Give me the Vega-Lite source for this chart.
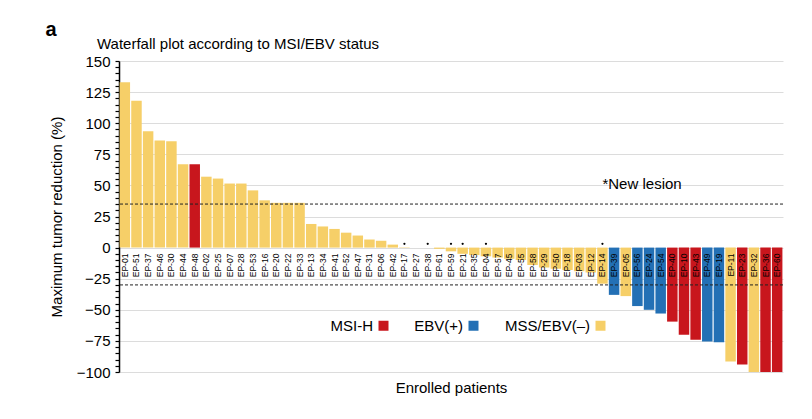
{
  "$schema": "https://vega.github.io/schema/vega-lite/v6.json",
  "autosize": {"type": "none"},
  "padding": {"left": 119, "top": 61, "right": 29, "bottom": 47},
  "width": 664,
  "height": 311,
  "config": {
    "font": "Liberation Sans",
    "view": {"stroke": null}
  },
  "title": {"text": "Waterfall plot according to MSI/EBV status", "anchor": "start", "frame": "group", "fontSize": 15, "fontWeight": "normal", "color": "#000", "dx": -22, "offset": 4, "dy": 37},
  "datasets": {
    "patients": [
      {"patient": "EP-01", "value": 133, "status": "MSS/EBV(–)", "lesion": false},
      {"patient": "EP-51", "value": 118, "status": "MSS/EBV(–)", "lesion": false},
      {"patient": "EP-37", "value": 93.5, "status": "MSS/EBV(–)", "lesion": false},
      {"patient": "EP-46", "value": 86, "status": "MSS/EBV(–)", "lesion": false},
      {"patient": "EP-30", "value": 85.5, "status": "MSS/EBV(–)", "lesion": false},
      {"patient": "EP-44", "value": 67, "status": "MSS/EBV(–)", "lesion": false},
      {"patient": "EP-48", "value": 67, "status": "MSI-H", "lesion": false},
      {"patient": "EP-02", "value": 57, "status": "MSS/EBV(–)", "lesion": false},
      {"patient": "EP-25", "value": 55.5, "status": "MSS/EBV(–)", "lesion": false},
      {"patient": "EP-07", "value": 51.5, "status": "MSS/EBV(–)", "lesion": false},
      {"patient": "EP-28", "value": 51.5, "status": "MSS/EBV(–)", "lesion": false},
      {"patient": "EP-53", "value": 46, "status": "MSS/EBV(–)", "lesion": false},
      {"patient": "EP-16", "value": 38, "status": "MSS/EBV(–)", "lesion": false},
      {"patient": "EP-20", "value": 36, "status": "MSS/EBV(–)", "lesion": false},
      {"patient": "EP-22", "value": 36, "status": "MSS/EBV(–)", "lesion": false},
      {"patient": "EP-33", "value": 36, "status": "MSS/EBV(–)", "lesion": false},
      {"patient": "EP-13", "value": 19, "status": "MSS/EBV(–)", "lesion": false},
      {"patient": "EP-34", "value": 17, "status": "MSS/EBV(–)", "lesion": false},
      {"patient": "EP-41", "value": 15, "status": "MSS/EBV(–)", "lesion": false},
      {"patient": "EP-52", "value": 12, "status": "MSS/EBV(–)", "lesion": false},
      {"patient": "EP-47", "value": 9.7, "status": "MSS/EBV(–)", "lesion": false},
      {"patient": "EP-31", "value": 6.5, "status": "MSS/EBV(–)", "lesion": false},
      {"patient": "EP-06", "value": 5.5, "status": "MSS/EBV(–)", "lesion": false},
      {"patient": "EP-42", "value": 2.4, "status": "MSS/EBV(–)", "lesion": false},
      {"patient": "EP-17", "value": 0.3, "status": "MSS/EBV(–)", "lesion": true},
      {"patient": "EP-27", "value": 0, "status": "MSS/EBV(–)", "lesion": false},
      {"patient": "EP-38", "value": 0, "status": "MSS/EBV(–)", "lesion": true},
      {"patient": "EP-61", "value": -1, "status": "MSS/EBV(–)", "lesion": false},
      {"patient": "EP-59", "value": -3, "status": "MSS/EBV(–)", "lesion": true},
      {"patient": "EP-21", "value": -5, "status": "MSS/EBV(–)", "lesion": true},
      {"patient": "EP-35", "value": -6, "status": "MSS/EBV(–)", "lesion": false},
      {"patient": "EP-04", "value": -7, "status": "MSS/EBV(–)", "lesion": true},
      {"patient": "EP-57", "value": -8, "status": "MSS/EBV(–)", "lesion": false},
      {"patient": "EP-45", "value": -9, "status": "MSS/EBV(–)", "lesion": false},
      {"patient": "EP-55", "value": -10, "status": "MSS/EBV(–)", "lesion": false},
      {"patient": "EP-58", "value": -14, "status": "MSS/EBV(–)", "lesion": false},
      {"patient": "EP-29", "value": -16, "status": "MSS/EBV(–)", "lesion": false},
      {"patient": "EP-50", "value": -17, "status": "MSS/EBV(–)", "lesion": false},
      {"patient": "EP-18", "value": -18, "status": "MSS/EBV(–)", "lesion": false},
      {"patient": "EP-03", "value": -19, "status": "MSS/EBV(–)", "lesion": false},
      {"patient": "EP-12", "value": -20, "status": "MSS/EBV(–)", "lesion": false},
      {"patient": "EP-14", "value": -29, "status": "MSS/EBV(–)", "lesion": true},
      {"patient": "EP-39", "value": -38, "status": "EBV(+)", "lesion": false},
      {"patient": "EP-05", "value": -39, "status": "MSS/EBV(–)", "lesion": false},
      {"patient": "EP-56", "value": -47, "status": "EBV(+)", "lesion": false},
      {"patient": "EP-24", "value": -50, "status": "EBV(+)", "lesion": false},
      {"patient": "EP-54", "value": -53, "status": "EBV(+)", "lesion": false},
      {"patient": "EP-40", "value": -59.5, "status": "MSI-H", "lesion": false},
      {"patient": "EP-10", "value": -70, "status": "MSI-H", "lesion": false},
      {"patient": "EP-43", "value": -74, "status": "MSI-H", "lesion": false},
      {"patient": "EP-49", "value": -75.5, "status": "EBV(+)", "lesion": false},
      {"patient": "EP-19", "value": -76, "status": "EBV(+)", "lesion": false},
      {"patient": "EP-11", "value": -91.5, "status": "MSS/EBV(–)", "lesion": false},
      {"patient": "EP-23", "value": -94, "status": "MSI-H", "lesion": false},
      {"patient": "EP-32", "value": -100, "status": "MSS/EBV(–)", "lesion": false},
      {"patient": "EP-36", "value": -100, "status": "MSI-H", "lesion": false},
      {"patient": "EP-60", "value": -100, "status": "MSI-H", "lesion": false}
    ],
    "thresholds": [{"cut": 35}, {"cut": -30}],
    "notes": [{"patient": "EP-14", "y": 51.5, "label": "*New lesion"}]
  },
  "resolve": {"axis": {"y": "independent"}},
  "layer": [
    {
      "data": {"name": "patients"},
      "mark": {"type": "bar"},
      "encoding": {
        "x": {
          "field": "patient", "type": "nominal", "sort": null,
          "scale": {"paddingInner": 0.1, "paddingOuter": 0.05},
          "axis": {"labels": false, "ticks": false, "domain": false, "title": "Enrolled patients", "titleFontSize": 15, "titleFontWeight": "normal", "titleColor": "#000", "titlePadding": 8}
        },
        "y": {
          "field": "value", "type": "quantitative",
          "scale": {"domain": [-100, 150], "nice": false, "zero": false},
          "axis": {
            "title": "Maximum tumor reduction (%)",
            "titleFontSize": 15, "titleFontWeight": "normal", "titleColor": "#000", "titlePadding": 12,
            "values": [-100,-95,-90,-85,-80,-75,-70,-65,-60,-55,-50,-45,-40,-35,-30,-25,-20,-15,-10,-5,0,5,10,15,20,25,30,35,40,45,50,55,60,65,70,75,80,85,90,95,100,105,110,115,120,125,130,135,140,145,150],
            "labelExpr": "datum.value % 25 === 0 ? (datum.value < 0 ? '−' + abs(datum.value) : '' + datum.value) : ''",
            "labelOverlap": false,
            "labelFontSize": 15, "labelColor": "#000", "labelPadding": 5,
            "domainColor": "#000", "domainWidth": 1.5,
            "tickColor": "#000", "tickWidth": 1.2, "tickSize": 4,
            "grid": true,
            "gridColor": {"condition": {"test": "datum.value % 25 === 0", "value": "#dcdcdc"}, "value": "transparent"}
          }
        },
        "color": {
          "field": "status", "type": "nominal",
          "scale": {"domain": ["MSI-H", "EBV(+)", "MSS/EBV(–)"], "range": ["#c8161d", "#2370b5", "#f6cf68"]},
          "legend": {
            "title": null, "orient": "none", "direction": "horizontal",
            "legendX": 257, "legendY": 257,
            "symbolType": "square", "symbolSize": 100, "symbolStrokeWidth": 0, "symbolOpacity": 1,
            "labelFontSize": 15, "labelColor": "#000",
            "labelAlign": "right", "labelOffset": -18,
            "columnPadding": 25
          }
        }
      }
    },
    {
      "data": {"name": "thresholds"},
      "mark": {"type": "rule", "color": "#222", "strokeDash": [3, 2], "strokeWidth": 1},
      "encoding": {
        "y": {
          "field": "cut", "type": "quantitative",
          "axis": {
            "orient": "right", "labels": false, "ticks": false, "domain": false, "grid": false,
            "title": "a", "titleAngle": 0, "titleX": -738, "titleY": -26,
            "titleAlign": "left", "titleBaseline": "alphabetic",
            "titleFontSize": 20, "titleFontWeight": "bold", "titleColor": "#000"
          }
        }
      }
    },
    {
      "data": {"name": "patients"},
      "mark": {"type": "text", "angle": 270, "align": "right", "baseline": "middle", "fontSize": 8.5, "color": "#000", "dx": -6},
      "encoding": {
        "x": {"field": "patient", "type": "nominal", "sort": null},
        "y": {"datum": 0, "axis": null},
        "text": {"field": "patient"}
      }
    },
    {
      "data": {"name": "patients"},
      "transform": [{"filter": "datum.lesion"}],
      "mark": {"type": "point", "filled": true, "color": "#000", "size": 5, "opacity": 1},
      "encoding": {
        "x": {"field": "patient", "type": "nominal", "sort": null},
        "y": {"datum": 3, "axis": null}
      }
    },
    {
      "data": {"name": "notes"},
      "mark": {"type": "text", "align": "left", "baseline": "middle", "fontSize": 15, "color": "#000"},
      "encoding": {
        "x": {"field": "patient", "type": "nominal", "sort": null},
        "y": {"field": "y", "type": "quantitative", "axis": null},
        "text": {"field": "label"}
      }
    }
  ]
}
